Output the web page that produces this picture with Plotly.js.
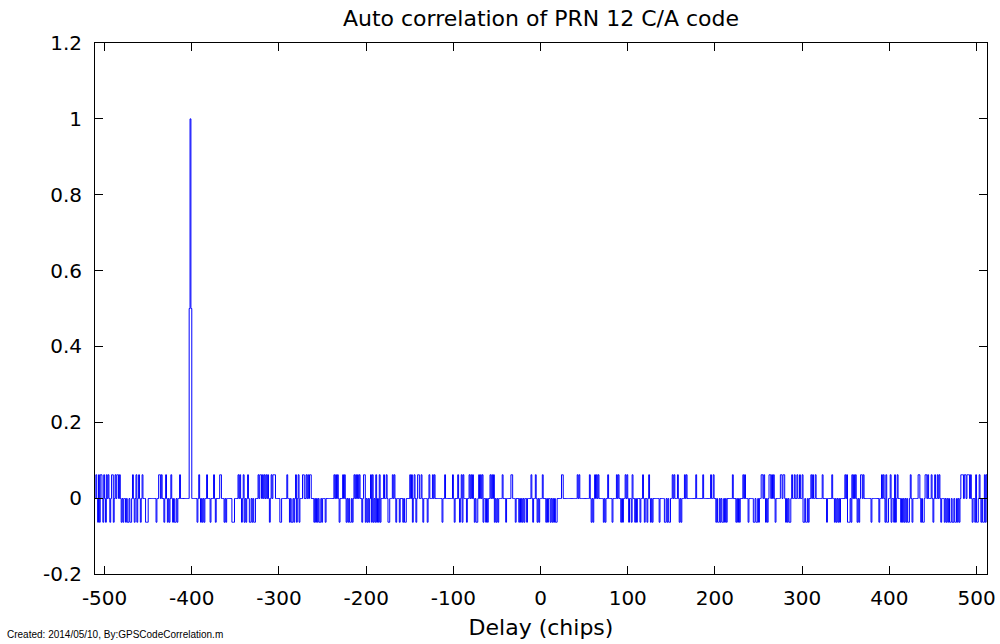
<!DOCTYPE html>
<html><head><meta charset="utf-8">
<script src="https://cdn.plot.ly/plotly-3.0.1.min.js"></script>
<style>html,body{margin:0;padding:0;background:#fff}#chart{width:1000px;height:644px}</style>
</head><body><div id="chart"></div>
<script>
// Correlation level per chip delay: '+' = 63/1023, '0' = -1/1023, '-' = -65/1023, 'H' = 0.5, 'P' = 1
const segmentStarts = [-511, -408, -305, -202, -99, 4, 107, 210, 314, 417];
const segmentCodes = [
  "0+0-+-++0-+0-+0+0-0++-0+0++0+0-0-00-0--0--0+0-0+-0+0-0+000---000000000-00++0+00-0+0-0-0+0-0--0-00+0000",
  "00000HPH000000-0+0-0-0-00+000-000+0-0000++000-0-000000---0000+0+0-0+-0-0+0--0-0--000+0++0+0+0+0+0-0+0++",
  "+00000--000000+00-0--0-0+-0+-000++00+0+0++000-0-0-0--0-000-000000000+0+0+0-000+0+0-0-0--0-0+0+0+0+00-0+",
  "+-0-0-0+-+-0-+-0-+-000+00+0--000+0+0-000-000-0--0000+0+-0+0-0++00+0-0000-0+000+0+00000000-00+00000000+0",
  "-000+0-0+-+000-00+0+0+0-0--0+0+0+-00-0-00+0+0+-0-0-0000+000-00000++000-000-0-0-0-00-0000+0-00+0-0-000+0",
  "00-0-00-0-0-0--00000++0000000000000000+0+00000000000+0-0-0+0+0+00000-0-00+0000-0000+0+00-0-00+0+0-00-+0",
  "0-0-000-00+0-00-0+0-0-0000000-00000--0-0--00+0+000+0-0-000+0+0000000000+0000000+00000000+00+00-0--0-0--",
  "0-0-000000+000-0-0-000+0+000-00000--0--0-00++0+0-0-0++0+0+0-00000++0++0-0-0--0+00+00+00+00+--0--0-00+0+0",
  "0+0000000+0000-00000+00-0-0-0-00000+0+---0-+0+0+0-0-0++0+00000000-00000000-00+0+0-+--00+-00-+-0+000-0-0",
  "-0-0--0+0-000000++0-0--0++0+000+0-0+00+0+0-000-0-0-0--0--0--0-0-0+++0++0+++0+0-00-+--0+0-0--+-+0"
];
const codeLevels = {"+": 0.0616, "0": -0.001, "-": -0.0635, "H": 0.5, "P": 1};
const xTickValues = [-500, -400, -300, -200, -100, 0, 100, 200, 300, 400, 500];
const xTickLabels = ["-500", "-400", "-300", "-200", "-100", "0", "100", "200", "300", "400", "500"];
const yTickValues = [-0.2, 0, 0.2, 0.4, 0.6, 0.8, 1, 1.2];
const yTickLabels = ["-0.2", "0", "0.2", "0.4", "0.6", "0.8", "1", "1.2"];

const delay = [], corr = [];
segmentCodes.forEach(function (s, k) {
  for (let i = 0; i < s.length; i++) {
    delay.push(segmentStarts[k] + i);
    corr.push(codeLevels[s[i]]);
  }
});

const axisCommon = {
  showline: true, linecolor: '#000', linewidth: 1, mirror: 'ticks',
  ticks: 'inside', ticklen: 8, tickwidth: 1, tickcolor: '#000',
  showgrid: false, zeroline: false,
  tickfont: {family: 'DejaVu Sans', size: 20, color: '#000'}
};

const layout = {
  width: 1000, height: 644,
  paper_bgcolor: '#fff', plot_bgcolor: '#fff',
  margin: {l: 95, r: 13, t: 43, b: 70},
  showlegend: false,
  title: {
    text: 'Auto correlation of PRN 12 C/A code',
    font: {family: 'DejaVu Sans', size: 22, color: '#000'},
    x: 0.5, xref: 'paper', xanchor: 'center',
    y: 0.972, yref: 'container', yanchor: 'middle'
  },
  xaxis: Object.assign({}, axisCommon, {
    range: [-511, 512], tickvals: xTickValues, ticktext: xTickLabels,
    ticklabelstandoff: 6,
    title: {text: 'Delay (chips)', font: {family: 'DejaVu Sans', size: 22, color: '#000'}, standoff: 10}
  }),
  yaxis: Object.assign({}, axisCommon, {
    range: [-0.2, 1.2], tickvals: yTickValues, ticktext: yTickLabels,
    ticklabelstandoff: 8
  }),
  annotations: [{
    text: 'Created: 2014/05/10, By:GPSCodeCorrelation.m',
    xref: 'paper', yref: 'paper', x: -0.1009, y: -0.113,
    xanchor: 'left', yanchor: 'middle', showarrow: false,
    font: {family: 'Liberation Sans', size: 10, color: '#000'}
  }]
};

Plotly.newPlot('chart', [{
  type: 'scatter', mode: 'lines', x: delay, y: corr,
  line: {color: '#0000ff', width: 1, shape: 'hv'},
  hoverinfo: 'skip'
}], layout, {staticPlot: true, displayModeBar: false});
</script>
</body></html>
